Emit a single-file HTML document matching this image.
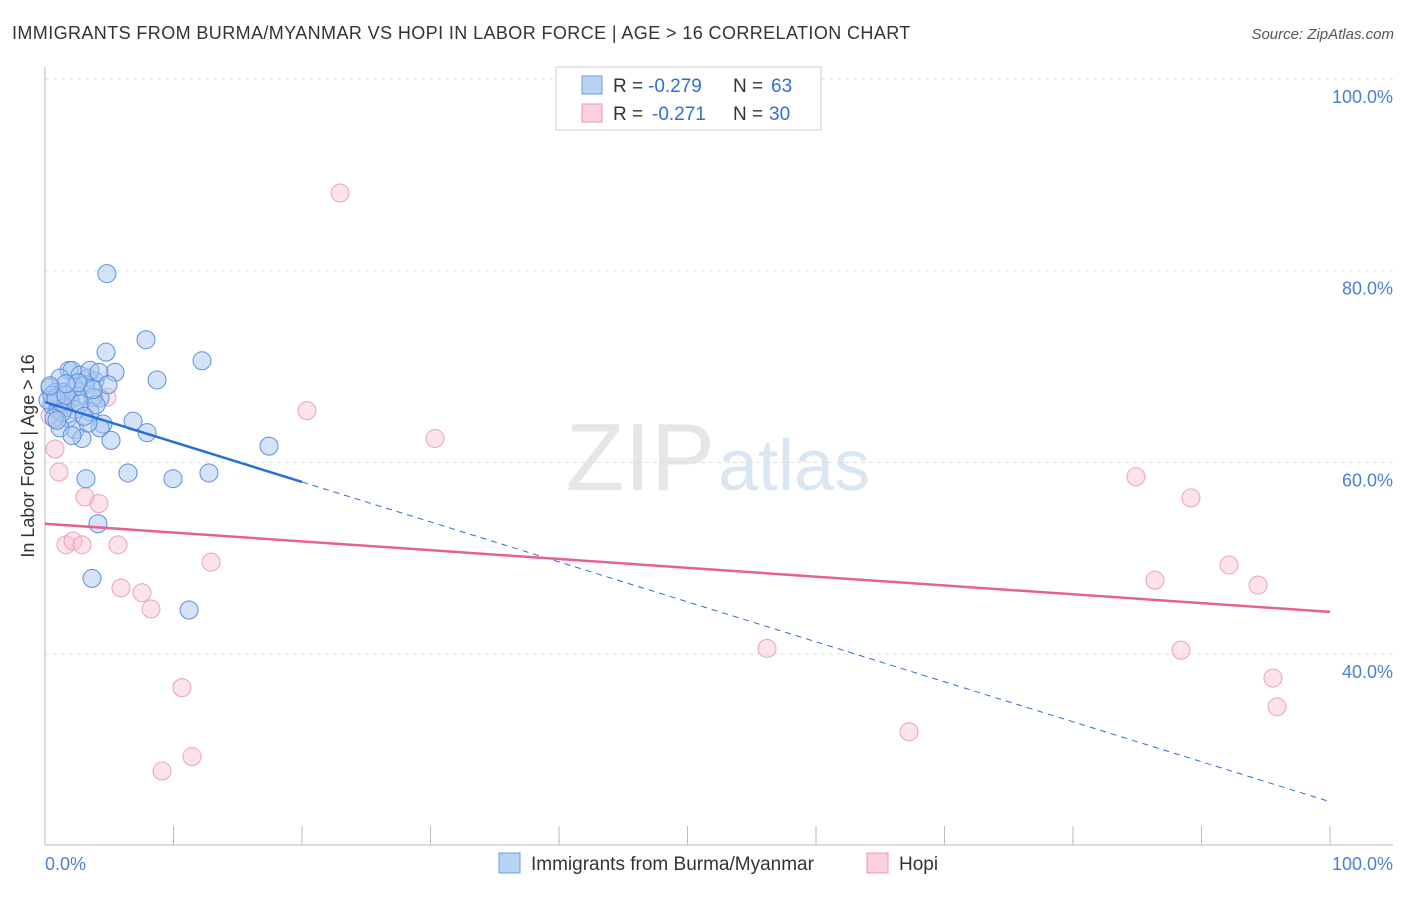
<!DOCTYPE html>
<html><head><meta charset="utf-8"><style>
body{margin:0;background:#fff;font-family:"Liberation Sans",sans-serif;}
svg text{font-family:"Liberation Sans",sans-serif;}
</style></head><body>
<svg id="c" width="1406" height="892">
<text x="12" y="39" font-size="18" fill="#333" letter-spacing="0.4">IMMIGRANTS FROM BURMA/MYANMAR VS HOPI IN LABOR FORCE | AGE &gt; 16 CORRELATION CHART</text>
<text x="1394" y="39" font-size="15" fill="#555" font-style="italic" text-anchor="end">Source: ZipAtlas.com</text>
<text x="715" y="490" font-size="96" fill="#e6e6e6" font-family="Liberation Serif" text-anchor="end">ZIP</text>
<text x="718" y="490" font-size="72" fill="#dbe6f5">atlas</text>
<g id="grid"></g><g id="marks"></g>
<text transform="translate(34,456) rotate(-90)" font-size="18" fill="#333" text-anchor="middle">In Labor Force | Age &gt; 16</text>
<text x="45" y="870" font-size="18" fill="#4a7fd4">0.0%</text>
<text x="1393" y="870" font-size="18" fill="#4a7fd4" text-anchor="end">100.0%</text>
<g>
<rect x="556" y="67" width="265" height="63" fill="#fff" stroke="#ccc"/>
<rect x="582" y="76" width="20" height="18" fill="#b9d3f5" stroke="#6b9be0"/>
<rect x="582" y="104" width="20" height="18" fill="#fbcfdc" stroke="#e89ab2"/>
<text x="613" y="92" font-size="19" fill="#333">R =</text>
<text x="648" y="92" font-size="19" fill="#2e6fd6">-0.279</text>
<text x="733" y="92" font-size="19" fill="#333">N =</text>
<text x="771" y="92" font-size="19" fill="#2e6fd6">63</text>
<text x="613" y="120" font-size="19" fill="#333">R =</text>
<text x="652" y="120" font-size="19" fill="#2e6fd6">-0.271</text>
<text x="733" y="120" font-size="19" fill="#333">N =</text>
<text x="769" y="120" font-size="19" fill="#2e6fd6">30</text>
</g>
<g>
<rect x="499" y="853" width="21" height="20" fill="#b9d3f5" stroke="#6b9be0"/>
<text x="531" y="870" font-size="19" fill="#333">Immigrants from Burma/Myanmar</text>
<rect x="867" y="853" width="21" height="20" fill="#fbcfdc" stroke="#e89ab2"/>
<text x="899" y="870" font-size="19" fill="#333">Hopi</text>
</g>
</svg>
<script>
const yTicks=[100,80,60,40];
const xTicks=[0,10,20,30,40,50,60,70,80,90,100];
const blueX=[4.82,7.86,4.75,12.22,8.72,5.45,1.87,2.10,1.17,2.72,3.35,3.89,0.39,0.78,1.40,2.33,3.11,4.28,3.74,2.57,1.95,1.17,0.54,0.23,1.01,1.56,2.33,3.50,4.51,6.85,7.94,1.79,2.33,2.88,1.17,4.28,5.14,3.35,17.43,6.46,9.96,12.76,3.19,4.12,3.66,11.21,0.54,0.86,1.63,2.72,3.97,1.32,3.04,0.70,2.10,3.50,4.20,2.57,1.63,0.39,4.90,0.93,3.74];
const blueY=[79.7,72.8,71.5,70.6,68.6,69.4,69.6,69.6,68.8,69.1,68.8,68.5,67.8,67.3,67.3,67.8,68.1,66.7,66.8,66.9,66.5,66.3,66.0,66.5,65.5,65.7,65.5,65.3,64.0,64.3,63.1,64.6,63.4,62.5,63.6,63.6,62.3,64.1,61.7,58.9,58.3,58.9,58.3,53.6,47.9,44.6,67.0,66.7,67.0,66.1,66.0,65.2,64.8,64.6,62.8,69.6,69.4,68.3,68.2,68.0,68.1,64.4,67.6];
const pinkX=[22.96,20.39,30.35,4.82,0.78,1.09,3.11,4.20,1.63,2.18,2.88,5.68,12.92,5.91,7.55,8.25,10.66,11.44,9.11,56.19,67.24,84.90,89.18,92.14,94.40,86.38,88.40,95.56,95.88,0.39];
const pinkY=[88.1,65.4,62.5,66.8,61.4,59.0,56.4,55.7,51.4,51.8,51.4,51.4,49.6,46.9,46.4,44.7,36.5,29.3,27.8,40.6,31.9,58.5,56.3,49.3,47.2,47.7,40.4,37.5,34.5,64.9];
const blueTrend=[66.3,24.6];
const blueSolidEnd=20;
const pinkTrend=[53.6,44.4];
const ytickLabels=["100.0%","80.0%","60.0%","40.0%"];

const NS="http://www.w3.org/2000/svg";
const sx=v=>45+v*12.85;
const sy=v=>79+(100-v)*9.585;
function mk(tag,attrs,parent){const e=document.createElementNS(NS,tag);for(const k in attrs)e.setAttribute(k,attrs[k]);parent.appendChild(e);return e;}
const grid=document.getElementById('grid'),marks=document.getElementById('marks');
yTicks.forEach((t,i)=>{
  const l=mk('line',{x1:45,x2:1393,y1:sy(t),y2:sy(t),stroke:'#ddd','stroke-dasharray':'4,4'},grid);
  
  
  const tx=mk('text',{x:1393,y:sy(t)+24,'font-size':18,fill:'#4a7fd4','text-anchor':'end'},grid);
  tx.textContent=ytickLabels[i];
  
  
});
let a=mk('line',{x1:45,x2:45,y1:67,y2:845,stroke:'#bbb'},grid);


a=mk('line',{x1:45,x2:1393,y1:845,y2:845,stroke:'#bbb'},grid);


xTicks.forEach(t=>{
  const l=mk('line',{x1:sx(t),x2:sx(t),y1:826,y2:845,stroke:'#bbb'},grid);
  
  
});
pinkX.forEach((x,i)=>{
  const c=mk('circle',{cx:sx(x),cy:sy(pinkY[i]),r:9,fill:'rgba(248,190,208,0.45)',stroke:'#eaa3b9','stroke-width':1},marks);
  
  
});
blueX.forEach((x,i)=>{
  const c=mk('circle',{cx:sx(x),cy:sy(blueY[i]),r:9,fill:'rgba(170,200,240,0.5)',stroke:'#5b8fdc','stroke-width':1},marks);
  
  
});
const bt=v=>blueTrend[0]+(blueTrend[1]-blueTrend[0])*v/100;
let l=mk('line',{x1:sx(0),y1:sy(bt(0)),x2:sx(blueSolidEnd),y2:sy(bt(blueSolidEnd)),stroke:'#2a6fd8','stroke-width':2.5},marks);


l=mk('line',{x1:sx(blueSolidEnd),y1:sy(bt(blueSolidEnd)),x2:sx(100),y2:sy(bt(100)),stroke:'#2a6fd8','stroke-width':1,'stroke-dasharray':'6,5'},marks);


l=mk('line',{x1:sx(0),y1:sy(pinkTrend[0]),x2:sx(100),y2:sy(pinkTrend[1]),stroke:'#e4628f','stroke-width':2.5},marks);


</script>
</body></html>
